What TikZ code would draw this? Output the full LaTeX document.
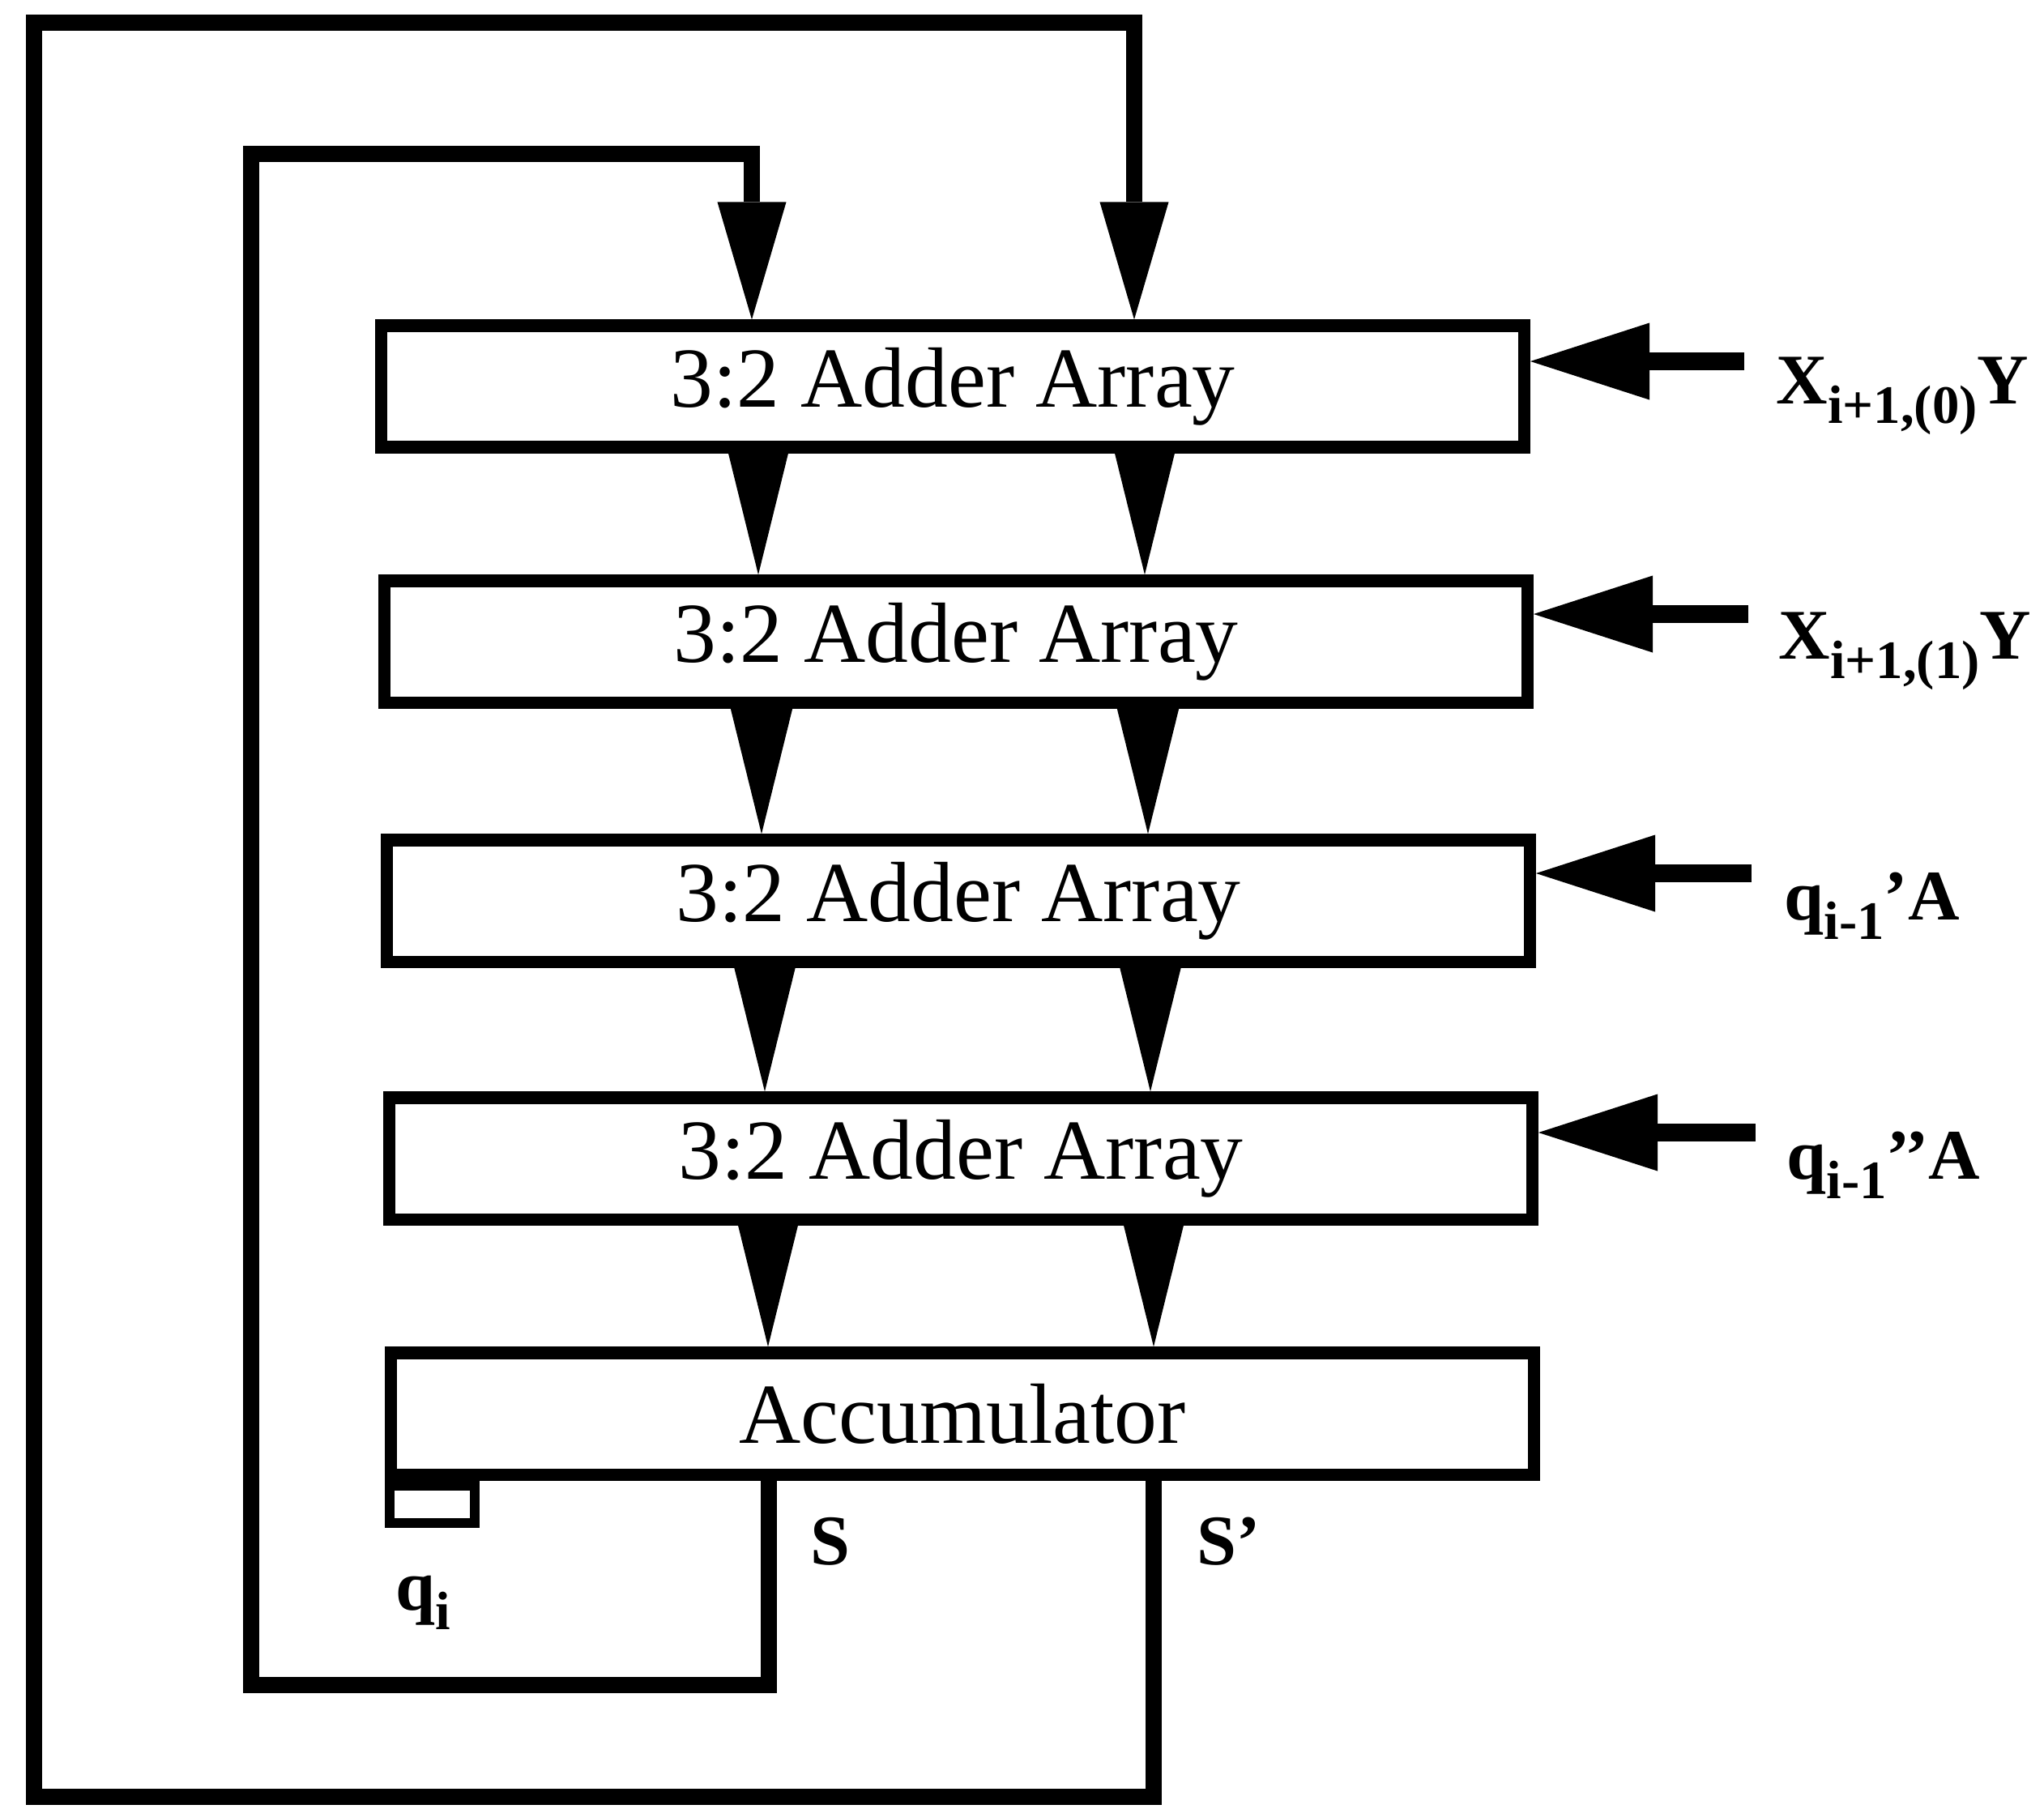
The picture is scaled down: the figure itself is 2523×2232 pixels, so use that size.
\documentclass[tikz,border=0pt]{standalone}
\usepackage{fontspec}
\setmainfont{Liberation Serif}
\usetikzlibrary{arrows.meta}
\newcommand{\lowsub}[1]{\raisebox{-7pt}{\fontsize{19}{20}\selectfont #1}}
\begin{document}
\begin{tikzpicture}[x=0.01cm,y=-0.01cm,
  blk/.style={draw, line width=4.3pt, minimum width=14.1cm, minimum height=1.5cm, inner sep=0pt, font=\fontsize{30}{36}\selectfont},
  lbl/.style={inner sep=0pt, anchor=base west, font=\fontsize{25}{30}\selectfont\bfseries},
  looparrow/.style={line width=5.8pt, -{Triangle[length=1.45cm, width=0.85cm, line width=0pt 0]}},
  dnarrow/.style={line width=4.3pt, -{Triangle[length=1.62cm, width=0.8cm, line width=0pt 0]}},
  inarrow/.style={line width=6.2pt, -{Triangle[length=1.47cm, width=0.95cm, line width=0pt 0]}},
  reg/.style={draw, line width=3.4pt, minimum width=1.05cm, minimum height=0.46cm, inner sep=0pt, anchor=north west}]
\useasboundingbox (0,0) rectangle (2523,2232);

% blocks
\node[blk] (b1) at (1176,477) {3:2 Adder Array};
\node[blk] (b2) at (1180,792) {3:2 Adder Array};
\node[blk] (b3) at (1183,1112) {3:2 Adder Array};
\node[blk] (b4) at (1186,1430) {3:2 Adder Array};
\node[blk] (acc) at (1188,1745) {Accumulator};
\node[reg] (qreg) at (acc.south west) {};

% column coordinates for arrows between blocks
\coordinate (l1) at (936,0);  \coordinate (r1) at (1413,0);
\coordinate (l2) at (940,0);  \coordinate (r2) at (1417,0);
\coordinate (l3) at (944,0);  \coordinate (r3) at (1420,0);
\coordinate (l4) at (948,0);  \coordinate (r4) at (1424,0);

\draw[dnarrow] (b1.south -| l1) -- (b2.north -| l1);
\draw[dnarrow] (b1.south -| r1) -- (b2.north -| r1);
\draw[dnarrow] (b2.south -| l2) -- (b3.north -| l2);
\draw[dnarrow] (b2.south -| r2) -- (b3.north -| r2);
\draw[dnarrow] (b3.south -| l3) -- (b4.north -| l3);
\draw[dnarrow] (b3.south -| r3) -- (b4.north -| r3);
\draw[dnarrow] (b4.south -| l4) -- (acc.north -| l4);
\draw[dnarrow] (b4.south -| r4) -- (acc.north -| r4);

% outer feedback loop (S')
\coordinate (oBR) at (1424,2218);
\coordinate (oBL) at (42,2218);
\coordinate (oTL) at (42,28);
\coordinate (oTR) at (1400,28);
\draw[looparrow] (acc.south -| oBR) -- (oBR) -- (oBL) -- (oTL) -- (oTR) -- (b1.north -| oTR);

% inner feedback loop (S)
\coordinate (iBR) at (949,2080);
\coordinate (iBL) at (310,2080);
\coordinate (iTL) at (310,190);
\coordinate (iTR) at (928,190);
\draw[looparrow] (acc.south -| iBR) -- (iBR) -- (iBL) -- (iTL) -- (iTR) -- (b1.north -| iTR);

% inputs on the right
\coordinate (in1) at (2153,446);
\coordinate (in2) at (2158,758);
\coordinate (in3) at (2162,1078);
\coordinate (in4) at (2167,1398);
\draw[inarrow] (in1) -- (in1 -| b1.east);
\draw[inarrow] (in2) -- (in2 -| b2.east);
\draw[inarrow] (in3) -- (in3 -| b3.east);
\draw[inarrow] (in4) -- (in4 -| b4.east);

\node[lbl] (t1) at (2192,498) {X\lowsub{i+1,(0)}Y};
\node[lbl] (t2) at (2195,813) {X\lowsub{i+1,(1)}Y};
\node[lbl] (t3) at (2202,1135) {q\lowsub{i-1}’A};
\node[lbl] (t4) at (2205,1455) {q\lowsub{i-1}’’A};

% output labels
\node[lbl] (sl) at (1000,1931) {S};
\node[lbl] (spl) at (1477,1931) {S’};
\node[lbl] (ql) at (488,1987) {q\lowsub{i}};
\end{tikzpicture}
\end{document}
